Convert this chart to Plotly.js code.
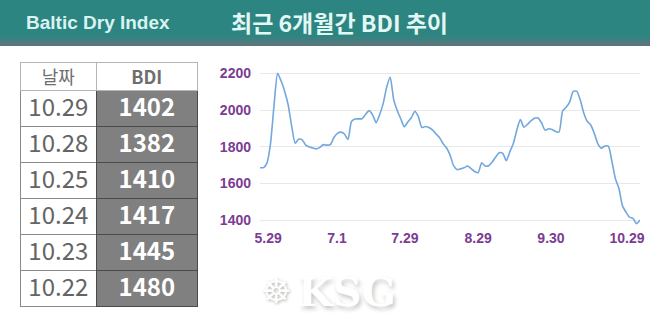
<!DOCTYPE html>
<html><head><meta charset="utf-8">
<script src="https://cdn.plot.ly/plotly-3.0.1.min.js"></script>
<style>html,body{margin:0;padding:0;background:#fff;}#chart{width:650px;height:321px;}</style>
</head><body><div id="chart"></div>
<script>
// BDI daily series, 5.29 .. 10.29 (trading days)
const bdiSeries = [
  1686, 1687, 1713, 1820, 2027, 2200, 2158, 2103, 2029, 1913,
  1820, 1842, 1838, 1809, 1799, 1794, 1788, 1797, 1812, 1809,
  1812, 1851, 1873, 1880, 1870, 1840, 1938, 1951, 1952, 1953,
  1976, 1997, 1974, 1932, 1975, 2035, 2124, 2180, 2057, 1998,
  1953, 1909, 1935, 1958, 1994, 1964, 1905, 1911, 1905, 1892,
  1871, 1851, 1818, 1795, 1756, 1699, 1676, 1680, 1686, 1696,
  1681, 1666, 1659, 1713, 1695, 1697, 1717, 1745, 1768, 1764,
  1725, 1773, 1818, 1892, 1948, 1907, 1922, 1941, 1956, 1957,
  1931, 1891, 1898, 1894, 1883, 1881, 1995, 2015, 2043, 2102,
  2103, 2056, 1986, 1939, 1919, 1874, 1818, 1793, 1804, 1804,
  1723, 1627, 1574, 1480, 1445, 1417, 1410, 1382, 1402
];
const tickLabels = ['5.29', '7.1', '7.29', '8.29', '9.30', '10.29'];
const yTicks = [1400, 1600, 1800, 2000, 2200];
const tableHeader = ['날짜', 'BDI'];
const tableDates = ['10.29', '10.28', '10.25', '10.24', '10.23', '10.22'];
const tableValues = [1402, 1382, 1410, 1417, 1445, 1480];
const headerLeft = 'Baltic Dry Index';
const headerTitle = '최근 6개월간 BDI 추이';
const logoText = 'KSG';

const W = 650, H = 321;
const px = x => x / W;
const py = y => 1 - y / H;
const tickPos = [2.3, 21.9, 41.2, 62, 82.7, 104.3];
const tickFont = {family: 'Liberation Sans, Arial, sans-serif', size: 14, color: '#7b3c94', weight: 'bold'};

const lineTrace = {
  type: 'scatter', mode: 'lines',
  x: bdiSeries.map((_, i) => i), y: bdiSeries,
  line: {color: '#72a8dc', width: 1.6, shape: 'spline', smoothing: 0.6},
  hoverinfo: 'skip'
};

const tableTrace = {
  type: 'table',
  domain: {x: [px(20), px(197)], y: [py(308), py(62)]},
  columnwidth: [77, 101],
  header: {
    values: tableHeader,
    height: 28, align: 'center',
    fill: {color: '#ffffff'},
    line: {color: '#b5b5b5', width: 1},
    font: {family: 'Noto Sans CJK KR, sans-serif', size: 18, color: '#6e6e6e', weight: ['normal', 'bold']}
  },
  cells: {
    values: [tableDates, tableValues.map(String)],
    height: 36, align: 'center',
    fill: {color: ['#ffffff', '#808080']},
    line: {color: ['#8a8a8a', '#4a4a4a'], width: 1},
    font: {family: 'Noto Sans CJK KR, sans-serif', size: 24, color: ['#646464', '#ffffff'], weight: ['normal', 'bold']}
  }
};

const layout = {
  width: W, height: H,
  margin: {l: 0, r: 0, t: 0, b: 0},
  paper_bgcolor: '#ffffff', plot_bgcolor: 'rgba(0,0,0,0)',
  showlegend: false,
  xaxis: {
    domain: [px(260), px(640)], range: [0, bdiSeries.length - 1],
    tickvals: tickPos, ticktext: tickLabels,
    showgrid: false, zeroline: false, showline: false, ticks: '',
    tickfont: tickFont, fixedrange: true
  },
  yaxis: {
    domain: [py(227.65), py(66)], range: [1360, 2240],
    tickvals: yTicks, gridcolor: '#e8e8e8', gridwidth: 1,
    zeroline: false, showline: false, ticks: '',
    tickfont: tickFont, ticklabelstandoff: 8, fixedrange: true
  },
  shapes: [
    {type: 'rect', xref: 'paper', yref: 'paper', x0: 0, x1: 1, y0: py(46), y1: 1, fillcolor: '#2c8581', line: {width: 0}, layer: 'below'},
    {type: 'rect', xref: 'paper', yref: 'paper', x0: 0, x1: 1, y0: py(46), y1: py(37), fillcolor: '#3d8080', line: {width: 0}, layer: 'below'},
    {type: 'rect', xref: 'paper', yref: 'paper', x0: 0, x1: 1, y0: py(46), y1: py(41), fillcolor: '#56797f', line: {width: 0}, layer: 'below'}
  ],
  annotations: [
    {xref: 'paper', yref: 'paper', x: px(24), y: py(22), xanchor: 'left', yanchor: 'middle', showarrow: false,
     text: '<b>' + headerLeft + '</b>', font: {family: 'Liberation Sans, Arial, sans-serif', size: 19, color: '#d9f3f1'}},
    {xref: 'paper', yref: 'paper', x: px(339), y: py(22), xanchor: 'center', yanchor: 'middle', showarrow: false,
     text: headerTitle, font: {family: 'Noto Sans CJK KR, sans-serif', size: 23, color: '#e3f7f5', weight: 'bold'}},
    {xref: 'paper', yref: 'paper', x: px(276), y: py(291), xanchor: 'center', yanchor: 'middle', showarrow: false,
     text: '☸', font: {family: 'DejaVu Sans, sans-serif', size: 34, color: '#ffffff', shadow: '1px 1px 3px rgba(0,0,0,0.3)'}},
    {xref: 'paper', yref: 'paper', x: px(296), y: py(291), xanchor: 'left', yanchor: 'middle', showarrow: false,
     text: '<b>' + logoText + '</b>', font: {family: 'DejaVu Serif, serif', size: 40, color: '#ffffff', shadow: '2px 3px 4px rgba(0,0,0,0.22)'}}
  ]
};

Plotly.newPlot('chart', [lineTrace, tableTrace], layout, {displayModeBar: false, staticPlot: true});
</script></body></html>
